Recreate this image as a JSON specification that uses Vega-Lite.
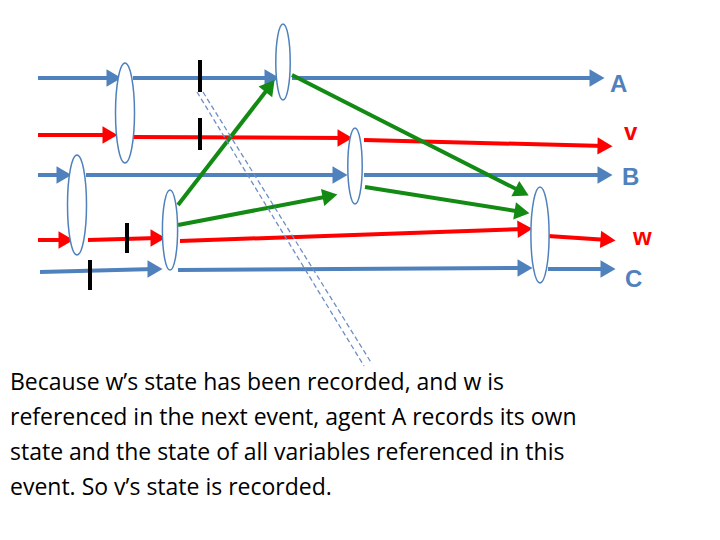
{
  "$schema": "https://vega.github.io/schema/vega-lite/v6.json",
  "width": 720,
  "height": 540,
  "autosize": {"type": "fit", "contains": "padding"},
  "padding": 0,
  "background": "white",
  "config": {"view": {"stroke": null}},
  "datasets": {
    "segments": [
      {"kind": "A", "x": 38, "y": 78, "x2": 112, "y2": 78},
      {"kind": "A", "x": 133, "y": 78, "x2": 270, "y2": 78},
      {"kind": "A", "x": 292, "y": 78, "x2": 595, "y2": 78},
      {"kind": "v", "x": 38, "y": 135, "x2": 110, "y2": 135},
      {"kind": "v", "x": 133, "y": 137, "x2": 345, "y2": 138},
      {"kind": "v", "x": 364, "y": 140, "x2": 605, "y2": 146},
      {"kind": "B", "x": 38, "y": 175, "x2": 64, "y2": 175},
      {"kind": "B", "x": 86, "y": 175, "x2": 340, "y2": 175},
      {"kind": "B", "x": 364, "y": 175, "x2": 605, "y2": 175},
      {"kind": "w", "x": 38, "y": 240, "x2": 66, "y2": 240},
      {"kind": "w", "x": 88, "y": 240, "x2": 158, "y2": 238},
      {"kind": "w", "x": 180, "y": 241, "x2": 525, "y2": 229},
      {"kind": "w", "x": 548, "y": 236, "x2": 608, "y2": 240},
      {"kind": "C", "x": 40, "y": 272, "x2": 155, "y2": 269},
      {"kind": "C", "x": 178, "y": 270, "x2": 525, "y2": 268},
      {"kind": "C", "x": 548, "y": 269, "x2": 608, "y2": 269},
      {"kind": "g", "x": 178, "y": 205, "x2": 270, "y2": 86},
      {"kind": "g", "x": 292, "y": 75, "x2": 522, "y2": 192},
      {"kind": "g", "x": 178, "y": 225, "x2": 330, "y2": 196},
      {"kind": "g", "x": 365, "y": 187, "x2": 522, "y2": 212}
    ],
    "heads": [
      {"kind": "A", "x": 114, "y": 78, "angle": 0},
      {"kind": "A", "x": 272, "y": 78, "angle": 0},
      {"kind": "A", "x": 597, "y": 78, "angle": 0},
      {"kind": "v", "x": 110, "y": 135, "angle": 0},
      {"kind": "v", "x": 345, "y": 138, "angle": 0},
      {"kind": "v", "x": 605, "y": 146, "angle": 1},
      {"kind": "B", "x": 64, "y": 175, "angle": 0},
      {"kind": "B", "x": 340, "y": 175, "angle": 0},
      {"kind": "B", "x": 605, "y": 175, "angle": 0},
      {"kind": "w", "x": 66, "y": 240, "angle": 0},
      {"kind": "w", "x": 158, "y": 238, "angle": 0},
      {"kind": "w", "x": 525, "y": 229, "angle": 358},
      {"kind": "w", "x": 608, "y": 240, "angle": 4},
      {"kind": "C", "x": 155, "y": 269, "angle": 0},
      {"kind": "C", "x": 525, "y": 268, "angle": 0},
      {"kind": "C", "x": 608, "y": 269, "angle": 0},
      {"kind": "g", "x": 270, "y": 86, "angle": 308},
      {"kind": "g", "x": 522, "y": 192, "angle": 27},
      {"kind": "g", "x": 330, "y": 196, "angle": 349},
      {"kind": "g", "x": 522, "y": 212, "angle": 9}
    ],
    "events": [
      {"x": 125, "y": 113, "h": 100},
      {"x": 283, "y": 62, "h": 76},
      {"x": 77, "y": 205, "h": 100},
      {"x": 355, "y": 166, "h": 76},
      {"x": 170, "y": 230, "h": 80},
      {"x": 540, "y": 235, "h": 96}
    ],
    "marks": [
      {"x": 200, "y": 60, "y2": 92},
      {"x": 200, "y": 118, "y2": 150},
      {"x": 127, "y": 223, "y2": 253},
      {"x": 90, "y": 260, "y2": 290}
    ],
    "dashes": [
      {"x": 197, "y": 92, "x2": 364, "y2": 366},
      {"x": 203, "y": 92, "x2": 372, "y2": 364}
    ],
    "labels": [
      {"kind": "A", "x": 610, "y": 85, "text": "A"},
      {"kind": "v", "x": 624, "y": 133, "text": "v"},
      {"kind": "B", "x": 622, "y": 178, "text": "B"},
      {"kind": "w", "x": 633, "y": 238, "text": "w"},
      {"kind": "C", "x": 625, "y": 280, "text": "C"}
    ],
    "caption": [
      {"x": 10, "y": 383, "text": "Because w’s state has been recorded,  and w is"},
      {"x": 10, "y": 418, "text": "referenced in the next event, agent A records its own"},
      {"x": 10, "y": 453, "text": "state and the state of all variables referenced in this"},
      {"x": 10, "y": 488, "text": "event. So v’s state is recorded."}
    ]
  },
  "encoding": {
    "x": {"field": "x", "type": "quantitative", "scale": {"domain": [0, 720]}, "axis": null},
    "y": {"field": "y", "type": "quantitative", "scale": {"domain": [540, 0]}, "axis": null}
  },
  "layer": [
    {
      "data": {"name": "segments"},
      "mark": {"type": "rule", "strokeWidth": 4},
      "encoding": {
        "x2": {"field": "x2"},
        "y2": {"field": "y2"},
        "color": {"field": "kind", "type": "nominal", "legend": null,
          "scale": {"domain": ["A", "v", "B", "w", "C", "g"], "range": ["#4f81bd", "#ff0000", "#4f81bd", "#ff0000", "#4f81bd", "#138a13"]}}
      }
    },
    {
      "data": {"name": "heads"},
      "mark": {"type": "point", "shape": "triangle-right", "filled": true, "opacity": 1, "size": 300},
      "encoding": {
        "angle": {"field": "angle", "type": "quantitative", "scale": null},
        "color": {"field": "kind", "type": "nominal", "legend": null,
          "scale": {"domain": ["A", "v", "B", "w", "C", "g"], "range": ["#4f81bd", "#ff0000", "#4f81bd", "#ff0000", "#4f81bd", "#138a13"]}}
      }
    },
    {
      "data": {"name": "events"},
      "mark": {"type": "point", "shape": "M0,-1A0.19,1 0 1,1 0,1A0.19,1 0 1,1 0,-1Z", "filled": false, "fill": "white", "fillOpacity": 1, "stroke": "#4f81bd", "strokeWidth": 1.5, "opacity": 1},
      "encoding": {
        "size": {"field": "h", "type": "quantitative", "scale": {"type": "pow", "exponent": 2, "domain": [0, 100], "range": [0, 10000]}, "legend": null}
      }
    },
    {
      "data": {"name": "marks"},
      "mark": {"type": "rule", "strokeWidth": 4, "color": "black"},
      "encoding": {"y2": {"field": "y2"}}
    },
    {
      "data": {"name": "dashes"},
      "mark": {"type": "rule", "strokeWidth": 1.3, "color": "#6f8fc4", "strokeDash": [5, 3]},
      "encoding": {"x2": {"field": "x2"}, "y2": {"field": "y2"}}
    },
    {
      "data": {"name": "labels"},
      "mark": {"type": "text", "align": "left", "baseline": "middle", "fontSize": 24, "fontWeight": "bold", "font": "Liberation Sans"},
      "encoding": {
        "text": {"field": "text"},
        "color": {"field": "kind", "type": "nominal", "legend": null,
          "scale": {"domain": ["A", "v", "B", "w", "C", "g"], "range": ["#4f81bd", "#ff0000", "#4f81bd", "#ff0000", "#4f81bd", "#138a13"]}}
      }
    },
    {
      "data": {"name": "caption"},
      "mark": {"type": "text", "align": "left", "baseline": "middle", "fontSize": 23, "font": "Open Sans", "color": "black"},
      "encoding": {
        "text": {"field": "text"}
      }
    }
  ]
}
